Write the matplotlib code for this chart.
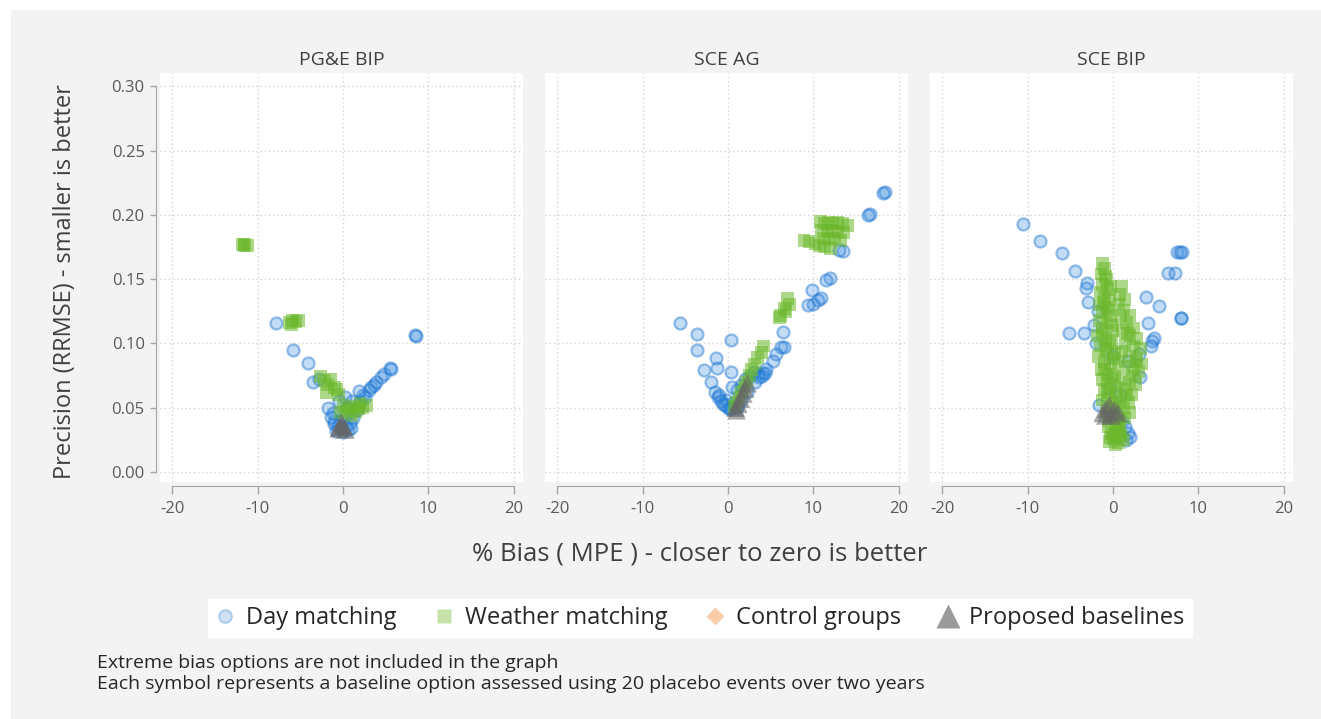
import matplotlib
matplotlib.use("Agg")
import matplotlib.pyplot as plt
from matplotlib.lines import Line2D
from matplotlib.patches import Rectangle

plt.rcParams['font.family'] = ['Open Sans', 'DejaVu Sans']

# ---------------- data ----------------
panel_titles = ["PG&E BIP", "SCE AG", "SCE BIP"]
x_ticks = [-20, -10, 0, 10, 20]
y_ticks = [0.00, 0.05, 0.10, 0.15, 0.20, 0.25, 0.30]

# PG&E BIP
pge_day_x = [-7.8, -5.9, -4.1, -3.5, -2.8, -1.8, -1.2, -1.0, -0.6, -0.2, 0.3, 0.8, 1.2, 1.6,
             0.5, -0.5, 0.2, 1.0, 2.0, 2.4, 2.6, 3.0, 3.3, 3.6, 3.9, 4.5, 4.8, 5.5, 5.6,
             8.4, 8.5, 1.9, -0.8, 0.0, 0.6, -1.4, -0.3, 0.9, 0.4, -1.1]
pge_day_y = [0.116, 0.095, 0.085, 0.070, 0.072, 0.050, 0.046, 0.040, 0.036, 0.034, 0.035, 0.038,
             0.042, 0.048, 0.050, 0.055, 0.058, 0.055, 0.055, 0.060, 0.058, 0.064, 0.066, 0.068,
             0.070, 0.074, 0.076, 0.081, 0.080, 0.1065, 0.106, 0.063, 0.032, 0.031, 0.033, 0.043,
             0.040, 0.034, 0.044, 0.037]
pge_wth_x = [-11.8, -11.5, -11.2, -11.6, -6.3, -5.9, -5.5, -5.2, -6.0, -2.6, -2.2, -1.8, -1.4,
             -1.0, -0.7, -1.9, -0.5, 0.0, 0.4, 0.8, 1.3, 1.8, 2.3, 2.8, 1.0, -0.3, 1.5, 2.0]
pge_wth_y = [0.177, 0.177, 0.176, 0.176, 0.116, 0.118, 0.117, 0.118, 0.115, 0.074, 0.071, 0.068,
             0.072, 0.066, 0.064, 0.062, 0.060, 0.052, 0.048, 0.050, 0.051, 0.049, 0.050, 0.052,
             0.044, 0.046, 0.047, 0.053]
pge_prop_x = [-0.5, 0.0, -0.2, 0.3, -0.4]
pge_prop_y = [0.034, 0.036, 0.038, 0.033, 0.035]

# SCE AG
ag_day_x = [18.4, 18.2, 16.6, 16.4, 13.5, 13.0, 11.9, 11.5, 9.8, 10.9, 10.5, 10.0, 9.4, 6.4,
            6.6, 6.2, 5.6, 5.3, 4.1, 3.5, 3.0, 4.5, 2.5, 2.0, 1.5, 1.0, 0.5, -5.6, -3.6, -3.6,
            0.35, -1.4, -1.3, -2.8, 0.35, -2.0, -1.5, -1.2, -0.8, -0.4, 0.0, 0.4, 0.8, 1.2,
            -1.0, -0.2, 0.6, 1.5, 2.2, 3.2, 4.0, 0.2, -0.6, 1.0, 3.6, 4.3]
ag_day_y = [0.218, 0.217, 0.201, 0.200, 0.172, 0.173, 0.151, 0.149, 0.1415, 0.135, 0.134, 0.131,
            0.130, 0.109, 0.0975, 0.097, 0.092, 0.086, 0.077, 0.076, 0.078, 0.080, 0.074, 0.072,
            0.068, 0.064, 0.066, 0.116, 0.107, 0.095, 0.1026, 0.0885, 0.081, 0.079, 0.078, 0.070,
            0.062, 0.058, 0.055, 0.052, 0.050, 0.050, 0.051, 0.052, 0.060, 0.056, 0.054, 0.056,
            0.062, 0.070, 0.075, 0.049, 0.053, 0.050, 0.074, 0.077]
ag_wth_x = [10.8, 11.3, 11.8, 12.3, 12.8, 13.4, 14.0, 11.0, 11.6, 12.2, 12.9, 13.6, 11.2, 11.8,
            12.5, 13.2, 10.7, 11.3, 12.0, 8.9, 9.5, 10.2, 7.0, 7.2, 6.6, 6.2, 6.0, 6.8, 4.2, 3.9,
            3.5, 3.1, 2.8, 2.5, 2.2, 1.9, 1.6, 1.3, 1.0, 0.8]
ag_wth_y = [0.195, 0.193, 0.194, 0.193, 0.194, 0.193, 0.192, 0.188, 0.187, 0.188, 0.187, 0.186,
            0.182, 0.181, 0.182, 0.180, 0.176, 0.175, 0.174, 0.180, 0.179, 0.178, 0.135, 0.130,
            0.127, 0.122, 0.120, 0.125, 0.098, 0.093, 0.089, 0.084, 0.080, 0.075, 0.070, 0.066,
            0.062, 0.058, 0.054, 0.051]
ag_prop_x = [0.9, 1.2, 1.5, 1.8, 2.0, 2.3, 1.0]
ag_prop_y = [0.050, 0.053, 0.057, 0.061, 0.065, 0.069, 0.048]

# SCE BIP
bip_day_x = [-10.6, -8.6, -6.0, -4.5, -3.1, -3.2, -2.9, -2.2, -5.1, -3.4, 7.5, 8.1, 7.8, 6.5,
             7.3, 3.9, 5.4, 8.0, 8.0, 4.1, 4.85, 4.6, 4.4, -0.1, 3.2, -1.6, 1.0, 1.4, 1.8, 2.0,
             1.5, 0.5, 0.8, -0.5, 1.8, 3.0, -1.8, -2.0]
bip_day_y = [0.193, 0.180, 0.170, 0.156, 0.147, 0.143, 0.132, 0.114, 0.108, 0.108, 0.171, 0.171,
             0.171, 0.155, 0.155, 0.136, 0.129, 0.120, 0.120, 0.116, 0.104, 0.102, 0.098, 0.090,
             0.074, 0.052, 0.040, 0.035, 0.030, 0.027, 0.025, 0.045, 0.060, 0.065, 0.086, 0.092,
             0.125, 0.100]
bip_wth_x = [-1.2, -1.0, -1.4, -0.8, -1.2, -0.6, -1.5, -1.0, -0.4, -1.6, -0.8, -1.2, -0.3, -1.6,
             -0.7, -1.3, 0.0, -1.8, -0.9, -0.2, -1.5, -0.6, 0.2, -1.7, -1.0, -0.3, -1.4, -0.6,
             0.2, -1.2, -0.3, -1.0, 0.3, -0.6, -1.3, 0.0, -0.8, 0.5, -0.4, 0.4, -0.5, 0.6, -0.2,
             0.9, 0.1, -0.4, 0.6, 1.2, 0.3,
             1.0, 0.8, 1.4, 0.7, 1.2, 2.0, 0.9, 1.6, 2.4, 1.1, 2.0, 2.8, 1.4, 2.4, 3.2, 1.0, 1.9,
             2.8, 3.3, 1.4, 2.3, 3.0, 1.0, 1.9, 2.6, 1.4, 2.2, 0.9, 1.8, 1.2, 2.0, 1.4,
             -0.9, -0.3, -1.1, -0.5, -1.3, -0.2, -0.9, -0.4, -1.0, 0.1, -0.7, -0.1, 0.4, -0.6,
             0.3, -0.2, 0.8, 0.0, 0.5, -0.5, 0.2, 0.7, -0.3, 0.9, 1.6, 2.5, 0.6, 2.7, 1.7]
bip_wth_y = [0.162, 0.158, 0.154, 0.150, 0.146, 0.142, 0.140, 0.136, 0.134, 0.130, 0.128, 0.124,
             0.122, 0.118, 0.116, 0.112, 0.110, 0.106, 0.104, 0.100, 0.098, 0.094, 0.092, 0.090,
             0.086, 0.084, 0.080, 0.076, 0.074, 0.072, 0.068, 0.064, 0.062, 0.058, 0.056, 0.052,
             0.048, 0.046, 0.042, 0.038, 0.035, 0.032, 0.030, 0.028, 0.026, 0.024, 0.023, 0.025,
             0.021,
             0.144, 0.138, 0.134, 0.130, 0.126, 0.122, 0.120, 0.116, 0.112, 0.110, 0.106, 0.104,
             0.100, 0.098, 0.096, 0.094, 0.090, 0.088, 0.084, 0.082, 0.080, 0.078, 0.072, 0.070,
             0.068, 0.064, 0.060, 0.056, 0.054, 0.050, 0.046, 0.042,
             0.152, 0.144, 0.132, 0.126, 0.108, 0.114, 0.096, 0.102, 0.080, 0.088, 0.070, 0.076,
             0.066, 0.062, 0.054, 0.050, 0.040, 0.044, 0.036, 0.040, 0.030, 0.034, 0.027, 0.029,
             0.060, 0.074, 0.086, 0.086, 0.108]
bip_prop_x = [-0.8, -1.2, -0.4, 0.2, -0.9, 0.6, -0.2]
bip_prop_y = [0.049, 0.046, 0.052, 0.048, 0.044, 0.046, 0.044]

panels = [
    (pge_day_x, pge_day_y, pge_wth_x, pge_wth_y, pge_prop_x, pge_prop_y),
    (ag_day_x, ag_day_y, ag_wth_x, ag_wth_y, ag_prop_x, ag_prop_y),
    (bip_day_x, bip_day_y, bip_wth_x, bip_wth_y, bip_prop_x, bip_prop_y),
]

# ---------------- styling ----------------
W, H = 1321, 719
fig = plt.figure(figsize=(W / 100, H / 100), dpi=100, facecolor="white")
fig.patches.append(Rectangle((11 / W, 0), 1, 1 - 10 / H, transform=fig.transFigure,
                             facecolor="#f3f3f3", edgecolor="none", zorder=-10))

tick_col = "#595959"
axis_col = "#a6a6a6"
grid_col = "#d4d4d4"

day_face = (0.22, 0.55, 0.87, 0.30)
day_edge = (0.10, 0.45, 0.82, 0.45)
wth_col = (0.42, 0.72, 0.17, 0.55)
prop_col = (0.40, 0.40, 0.40, 0.55)

lefts = [160, 545, 930]
ax_w, ax_top, ax_bot = 363, 73, 482

for i, (dx, dy, wx, wy, px, py) in enumerate(panels):
    ax = fig.add_axes([lefts[i] / W, 1 - ax_bot / H, ax_w / W, (ax_bot - ax_top) / H])
    ax.set_facecolor("white")
    ax.scatter(dx, dy, s=75, marker="o", facecolor=day_face, edgecolor=day_edge,
               linewidths=1.6, zorder=3)
    ax.scatter(wx, wy, s=85, marker="s", facecolor=wth_col, edgecolor="none", zorder=4)
    ax.scatter(px, py, s=180, marker="^", facecolor=prop_col, edgecolor="none", zorder=5)

    ax.set_xlim(-21.45, 21.1)
    ax.set_ylim(-0.0078, 0.3103)
    ax.set_xticks(x_ticks)
    ax.set_xticklabels([str(t) for t in x_ticks])
    ax.set_yticks(y_ticks)
    ax.set_yticklabels([f"{t:.2f}" for t in y_ticks])
    ax.grid(True, linestyle=(0, (1, 2)), color=grid_col, linewidth=1.0, zorder=0)
    ax.set_axisbelow(True)
    ax.xaxis.get_gridlines()[0].set_visible(False)
    ax.yaxis.get_gridlines()[-1].set_visible(False)

    for s in ["top", "right"]:
        ax.spines[s].set_visible(False)
    ax.spines["bottom"].set_position(("outward", 3))
    ax.spines["bottom"].set_bounds(-20, 20)
    ax.spines["bottom"].set_color(axis_col)
    ax.tick_params(axis="x", colors=axis_col, labelcolor=tick_col, labelsize=12,
                   length=6, width=1, pad=5)
    if i == 0:
        ax.spines["left"].set_position(("outward", 3))
        ax.spines["left"].set_bounds(0, 0.30)
        ax.spines["left"].set_color(axis_col)
        ax.tick_params(axis="y", colors=axis_col, labelcolor=tick_col, labelsize=12,
                       length=4, width=1, pad=4)
    else:
        ax.spines["left"].set_visible(False)
        ax.tick_params(axis="y", left=False, labelleft=False)
    ax.set_title(panel_titles[i], fontsize=14, color="#404040", pad=6)

fig.text(700 / W, 1 - 554 / H, "% Bias ( MPE ) - closer to zero is better",
         ha="center", va="center", fontsize=18.5, color="#404040")
fig.text(65 / W, 1 - 282 / H, "Precision (RRMSE) - smaller is better",
         ha="center", va="center", rotation=90, fontsize=17, color="#404040")

handles = [
    Line2D([], [], linestyle="none", marker="o", markersize=9, markerfacecolor="#cfe1f3",
           markeredgecolor="#a9cbec", markeredgewidth=1.5, label="Day matching"),
    Line2D([], [], linestyle="none", marker="s", markersize=10, markerfacecolor="#c6e2a9",
           markeredgecolor="none", label="Weather matching"),
    Line2D([], [], linestyle="none", marker="D", markersize=9, markerfacecolor="#f9ccaa",
           markeredgecolor="none", label="Control groups"),
    Line2D([], [], linestyle="none", marker="^", markersize=17, markerfacecolor="#9a9a9a",
           markeredgecolor="none", label="Proposed baselines"),
]
fig.legend(handles=handles, loc="center", bbox_to_anchor=(700 / W, 1 - 618 / H), ncol=4,
           frameon=True, fancybox=False, edgecolor="white", facecolor="white", framealpha=1,
           fontsize=17, handlelength=0.8, handletextpad=0.5, columnspacing=1.6,
           borderpad=0.3, borderaxespad=0, labelcolor="#262626")

fig.text(97 / W, 1 - 663 / H, "Extreme bias options are not included in the graph",
         ha="left", va="center", fontsize=14, color="#262626")
fig.text(97 / W, 1 - 684 / H,
         "Each symbol represents a baseline option assessed using 20 placebo events over two years",
         ha="left", va="center", fontsize=14, color="#262626")

fig.savefig("out.png", dpi=100, facecolor=fig.get_facecolor())
